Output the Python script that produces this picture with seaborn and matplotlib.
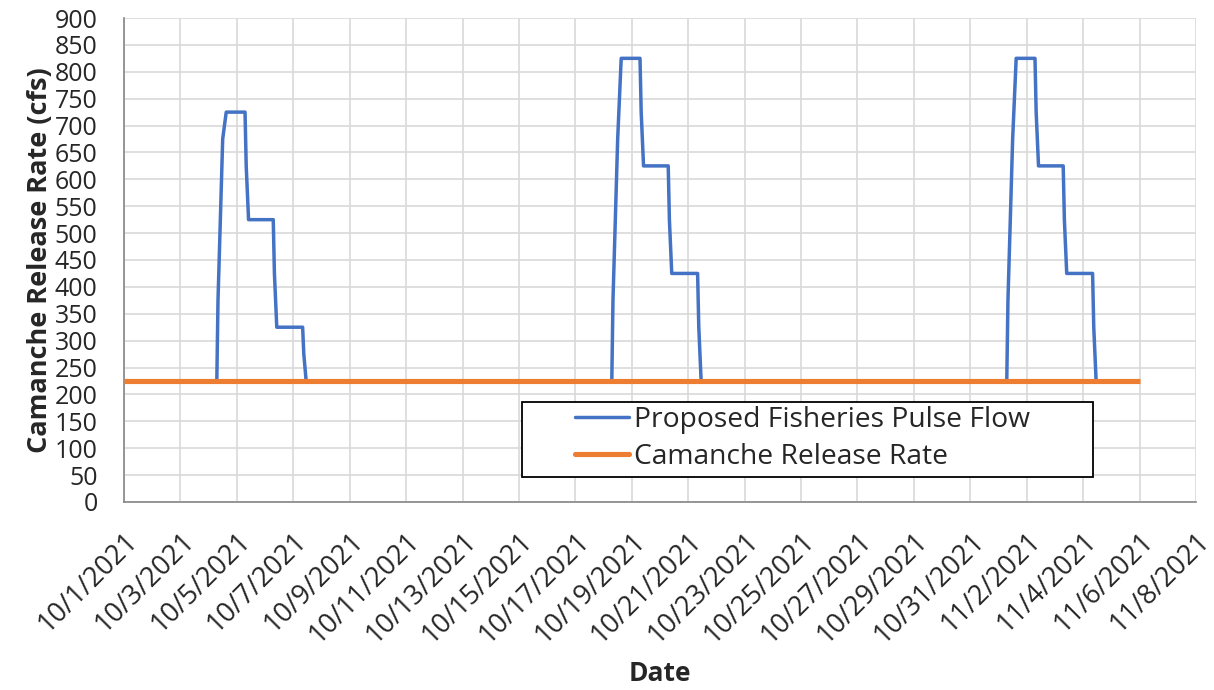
import numpy as np
import pandas as pd
import matplotlib
matplotlib.use("Agg")
import matplotlib.pyplot as plt
import matplotlib.dates as mdates
from matplotlib.lines import Line2D
from matplotlib.patches import Rectangle
import seaborn as sns

# pulse schedule: hours after each pulse start, and flow (cfs)
pulse_starts = ["2021-10-04 07:00", "2021-10-18 07:00", "2021-11-01 07:00"]
pulse_hours = [0, 1, 3, 5, 8, 24, 25, 27, 48, 49, 51, 73, 74, 76]
pulse1_flow = [225, 375, 525, 675, 725, 725, 625, 525, 525, 425, 325, 325, 275, 225]
pulse2_flow = [225, 375, 525, 675, 825, 825, 725, 625, 625, 525, 425, 425, 325, 225]
pulse3_flow = [225, 375, 525, 675, 825, 825, 725, 625, 625, 525, 425, 425, 325, 225]

release_dates = ["2021-10-01", "2021-11-06"]
release_flow = [225, 225]

tick_dates = pd.date_range("2021-10-01", "2021-11-08", freq="2D")

BLUE = "#4472C4"
ORANGE = "#ED7D31"

rows = []
for i, (start, flows) in enumerate(zip(pulse_starts, [pulse1_flow, pulse2_flow, pulse3_flow])):
    t0 = pd.Timestamp(start)
    for h, f in zip(pulse_hours, flows):
        rows.append({"pulse": i, "time": t0 + pd.Timedelta(hours=h), "flow": f})
pulses = pd.DataFrame(rows)
release = pd.DataFrame({"time": pd.to_datetime(release_dates), "flow": release_flow})

sns.set_style("white")
plt.rcParams["font.family"] = ["Open Sans", "DejaVu Sans"]

fig = plt.figure(figsize=(12.14, 6.90), dpi=100)
ax = fig.add_axes([0.1021, 0.2725, 0.8831, 0.7014])

sns.lineplot(data=pulses, x="time", y="flow", units="pulse", estimator=None,
             color=BLUE, lw=2.5, ax=ax, zorder=3)
sns.lineplot(data=release, x="time", y="flow", color=ORANGE, lw=3.7, ax=ax,
             zorder=4, solid_capstyle="butt")

ax.set_xlim(pd.Timestamp("2021-10-01"), pd.Timestamp("2021-11-08"))
ax.set_ylim(0, 900)
ax.set_yticks(np.arange(0, 901, 50))
ax.set_xticks(tick_dates)
ax.set_xticklabels([f"{d.month}/{d.day}/{d.year}" for d in tick_dates],
                   rotation=45, ha="right", rotation_mode="anchor", fontsize=19.5)
ax.xaxis.set_minor_locator(mdates.DayLocator())
ax.tick_params(axis="y", labelsize=18, length=8, width=1.2, color="#868686",
               direction="out", pad=11)
ax.tick_params(axis="x", which="major", length=16, width=1.2, color="#868686",
               direction="inout", pad=10)
ax.tick_params(axis="x", which="minor", length=6, width=1.2, color="#868686",
               direction="in")

ax.grid(True, which="major", color="#d9d9d9", lw=1.2)
for s in ["top", "right"]:
    ax.spines[s].set_visible(False)
for s in ["left", "bottom"]:
    ax.spines[s].set_color("#868686")
    ax.spines[s].set_linewidth(1.2)

ax.set_ylabel("Camanche Release Rate (cfs)", fontsize=19.5, fontweight="bold", labelpad=1)
ax.set_xlabel("Date", fontsize=19, fontweight="bold", labelpad=8)

# legend box
ax.add_patch(Rectangle((0.3713, 0.0517), 0.5326, 0.1549, transform=ax.transAxes,
                       facecolor="white", edgecolor="black", lw=1.3, zorder=5))
handles = [Line2D([], [], color=BLUE, lw=2.5),
           Line2D([], [], color=ORANGE, lw=3.7)]
leg = ax.legend(handles, ["Proposed Fisheries Pulse Flow", "Camanche Release Rate"],
                loc="center", bbox_to_anchor=(0.633, 0.131), fontsize=20.3,
                frameon=False, handlelength=1.9, handletextpad=0.2,
                labelspacing=0.32, borderpad=0, borderaxespad=0)
leg.set_zorder(6)

fig.savefig("out.png", dpi=100)
